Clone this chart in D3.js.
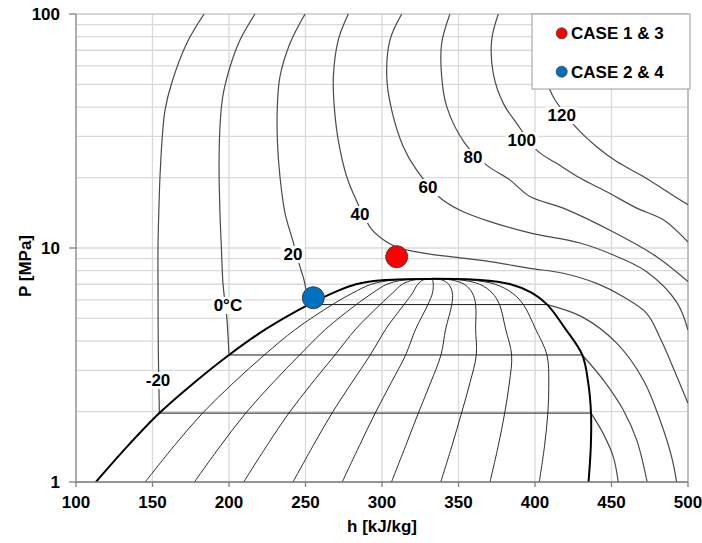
<!DOCTYPE html>
<html>
<head>
<meta charset="utf-8">
<script src="https://cdn.jsdelivr.net/npm/d3@7"></script>
<style>
  html, body { margin: 0; padding: 0; background: #fff; }
  svg { display: block; }
  text { font-family: "Liberation Sans", Arial, sans-serif; font-weight: bold; fill: #000; }
</style>
</head>
<body>
<svg id="chart" width="702" height="543"></svg>
<script>
// ---------------- DATA ----------------
const hTicks = [100, 150, 200, 250, 300, 350, 400, 450, 500];
const pTicks = [1, 10, 100];

// Saturation dome (pressure MPa, liquid h, vapour h)
const satP  = [1.0, 1.43, 1.97, 2.65, 3.49, 4.5, 5.73, 6.43, 7.0, 7.3, 7.38];
const satHl = [113, 134, 154.5, 177, 200, 224, 252, 268, 283, 302, 332];
const satHv = [435, 436.5, 436.6, 434.8, 430.9, 420, 408, 398, 384, 364, 332];

// Vapour quality lines inside the dome
const qualities = [0.1, 0.2, 0.3, 0.4, 0.5, 0.6, 0.7, 0.8, 0.9];

// Two-phase isotherm (tie-line) pressures: -20, 0, 20 °C
const tieP = [1.97, 3.49, 5.73];

// Isotherms [h kJ/kg, P MPa]
const isoM20Liq = [[183.7,100],[172.4,75.0],[162.5,50.6],[158.2,38.9],[156.4,29.9],[154.9,20.2],[154.1,14.1],[153.6,10.1],[153.6,7.30],[153.8,3.66],[154.5,1.97]];
const isoM20Vap = [[436.6,1.97],[444.6,1.61],[451.2,1.28],[454.4,1.0]];
const iso0Liq   = [[217.0,100],[207.2,77.4],[200.7,59.5],[195.9,44.3],[194.1,33.0],[193.5,22.3],[194.1,14.1],[195.0,10.1],[195.9,7.30],[196.7,6.40],[198.5,5.09],[200,3.49]];
const iso0Vap   = [[430.9,3.49],[444.6,2.73],[457.7,2.03],[466.5,1.51],[473.3,1.0]];
const iso20Liq  = [[249.7,100],[239.9,75.0],[233.3,54.0],[231.6,40.2],[231.6,28.9],[233.3,20.2],[236.6,14.1],[241.6,10.8],[246.4,8.32],[249.0,7.30],[252,5.73]];
const iso20Vap  = [[408,5.73],[430.5,5.09],[453.4,3.92],[470.8,2.73],[481.7,1.84],[489.3,1.28],[492.6,1.0]];
const iso40  = [[278.0,100],[271.4,77.4],[268.2,54.0],[268.8,40.2],[271.4,28.9],[276.9,20.2],[281.2,17.1],[293.3,12.0],[303.1,10.6],[309.6,10.1],[318.3,9.74],[331.4,9.42],[348.8,9.12],[370.6,8.74],[396.7,8.19],[418.5,7.80],[440.3,7.06],[457.7,6.19],[473.0,5.26],[482.4,4.04],[491.5,2.95],[500,2.17]];
const iso60  = [[312.9,100],[305.2,77.4],[303.1,54.0],[306.3,38.9],[313.9,27.1],[322.7,21.5],[337.9,16.4],[351.0,14.5],[370.6,12.96],[396.7,11.6],[429.4,10.5],[451.2,9.33],[473.0,7.92],[492.6,5.87],[500,4.46]];
const iso80  = [[344.4,100],[339.0,75.0],[339.0,54.0],[342.3,40.2],[354.2,28.0],[368.4,22.6],[383.7,19.5],[396.7,16.6],[418.5,14.8],[451.2,11.7],[479.5,9.18],[500,7.18]];
const iso100 = [[376.0,100],[371.7,77.4],[372.7,55.8],[379.3,41.5],[388.0,34.1],[402.2,25.8],[414.2,23.0],[429.4,19.9],[446.9,17.4],[466.5,14.8],[483.9,13.2],[500,10.6]];
const iso120 = [[408,100],[404,77],[405,60],[409.8,47.3],[413.1,42.9],[426.1,33.2],[440.3,27.1],[453.4,23.4],[470.8,20.2],[488.2,17.1],[500,15.3]];
const isotherms = [isoM20Liq, isoM20Vap, iso0Liq, iso0Vap, iso20Liq, iso20Vap, iso40, iso60, iso80, iso100, iso120];

// Isotherm labels: text, h, P
const isoLabels = [
  ["-20", 153.6, 2.73], ["0°C", 199.3, 5.71], ["20", 241.8, 9.43], ["40", 285.6, 13.97],
  ["60", 330.1, 18.2], ["80", 359.5, 24.5], ["100", 391.3, 28.9], ["120", 417.5, 37.0]
];

// Operating points
const caseNames = ["CASE 1 & 3", "CASE 2 & 4"];
const caseH = [309.6, 255.1];
const caseP = [9.18, 6.13];
const caseColors = ["#ff0000", "#0070c0"];

// ---------------- CHART ----------------
const svg = d3.select("#chart");
const x = d3.scaleLinear().domain([100, 500]).range([76, 688]);
const y = d3.scaleLog().domain([1, 100]).range([482, 14]);
const [x0, x1] = x.range();
const [y0, y1] = [y(100), y(1)];

svg.append("defs").append("clipPath").attr("id", "plotclip")
  .append("rect").attr("x", x0).attr("y", y0).attr("width", x1 - x0).attr("height", y1 - y0);

// gridlines
const grid = svg.append("g");
grid.selectAll(".vg").data(hTicks.slice(1, -1)).join("line")
  .attr("x1", d => x(d)).attr("x2", d => x(d)).attr("y1", y0).attr("y2", y1)
  .attr("stroke", "#d9d9d9").attr("stroke-width", 1.3);
grid.selectAll(".hg").data(y.ticks().filter(d => d > 1 && d < 100)).join("line")
  .attr("x1", x0).attr("x2", x1).attr("y1", d => y(d)).attr("y2", d => y(d))
  .attr("stroke", "#d9d9d9").attr("stroke-width", 1.3);
// top and right borders
svg.append("line").attr("x1", x0).attr("x2", x1).attr("y1", y0).attr("y2", y0).attr("stroke", "#c8c8c8").attr("stroke-width", 1.3);
svg.append("line").attr("x1", x1).attr("x2", x1).attr("y1", y0).attr("y2", y1).attr("stroke", "#bfbfbf").attr("stroke-width", 2);

const plot = svg.append("g").attr("clip-path", "url(#plotclip)");
const line = d3.line().x(d => x(d[0])).y(d => y(d[1])).curve(d3.curveCatmullRom.alpha(0.5));

// quality lines
qualities.forEach(q => {
  const pts = satP.map((p, i) => [satHl[i] + q * (satHv[i] - satHl[i]), p]);
  plot.append("path").attr("d", line(pts)).attr("fill", "none")
    .attr("stroke", "#2e2e2e").attr("stroke-width", 1);
});

// tie lines
tieP.forEach(p => {
  const i = satP.indexOf(p);
  plot.append("line").attr("x1", x(satHl[i])).attr("x2", x(satHv[i]))
    .attr("y1", y(p)).attr("y2", y(p)).attr("stroke", "#1a1a1a").attr("stroke-width", 1);
});

// isotherms
isotherms.forEach(pts => {
  plot.append("path").attr("d", line(pts)).attr("fill", "none")
    .attr("stroke", "#4a4a4a").attr("stroke-width", 1.2);
});

// saturation dome
const domePts = satP.map((p, i) => [satHl[i], p])
  .concat(satP.slice(0, -1).map((p, i) => [satHv[i], p]).reverse());
plot.append("path").attr("d", line(domePts)).attr("fill", "none")
  .attr("stroke", "#000").attr("stroke-width", 2);

// isotherm labels with white backgrounds
const lg = svg.append("g");
isoLabels.forEach(([t, h, p]) => {
  const g = lg.append("g");
  const txt = g.append("text").attr("x", x(h)).attr("y", y(p)).attr("dy", "0.35em")
    .attr("text-anchor", "middle").attr("font-size", 17).text(t);
  const bb = txt.node().getBBox();
  g.insert("rect", "text").attr("x", bb.x - 2).attr("y", bb.y + 1).attr("width", bb.width + 4)
    .attr("height", bb.height - 2).attr("fill", "#fff");
});

// operating points
svg.append("g").selectAll("circle").data(caseH).join("circle")
  .attr("cx", d => x(d)).attr("cy", (d, i) => y(caseP[i])).attr("r", 11)
  .attr("fill", (d, i) => caseColors[i]).attr("stroke", "#404040").attr("stroke-width", 1);

// axes
svg.append("line").attr("x1", x0).attr("x2", x0).attr("y1", y0).attr("y2", y1).attr("stroke", "#808080").attr("stroke-width", 1.3);
svg.append("line").attr("x1", x0).attr("x2", x1).attr("y1", y1).attr("y2", y1).attr("stroke", "#707070").attr("stroke-width", 1.5);
svg.append("g").selectAll("line").data(pTicks).join("line")
  .attr("x1", x0 - 7).attr("x2", x0).attr("y1", d => y(d)).attr("y2", d => y(d)).attr("stroke", "#808080").attr("stroke-width", 1.3);
svg.append("g").selectAll("line").data(hTicks).join("line")
  .attr("x1", d => x(d)).attr("x2", d => x(d)).attr("y1", y1).attr("y2", y1 + 5).attr("stroke", "#808080").attr("stroke-width", 1.3);
svg.append("g").selectAll("text").data(pTicks).join("text")
  .attr("x", 60).attr("y", d => y(d)).attr("dy", "0.35em").attr("text-anchor", "end")
  .attr("font-size", 17).text(d => d3.format("d")(d));
svg.append("g").selectAll("text").data(hTicks).join("text")
  .attr("x", d => x(d)).attr("y", 508).attr("text-anchor", "middle")
  .attr("font-size", 17).text(d => d);
svg.append("text").attr("x", 382).attr("y", 532).attr("text-anchor", "middle")
  .attr("font-size", 17).text("h [kJ/kg]");
svg.append("text").attr("transform", "translate(31,266) rotate(-90)").attr("text-anchor", "middle")
  .attr("font-size", 17).text("P [MPa]");

// legend
const leg = svg.append("g");
leg.append("rect").attr("x", 532).attr("y", 14).attr("width", 158).attr("height", 75)
  .attr("fill", "#fff").attr("stroke", "#9a9a9a").attr("stroke-width", 1);
caseNames.forEach((n, i) => {
  const cy = 33.3 + i * 38.4;
  leg.append("circle").attr("cx", 561.7).attr("cy", cy).attr("r", 5.5)
    .attr("fill", caseColors[i]).attr("stroke", "#404040").attr("stroke-width", 0.8);
  leg.append("text").attr("x", 571).attr("y", cy).attr("dy", "0.36em")
    .attr("font-size", 17).text(n);
});
</script>
</body>
</html>
